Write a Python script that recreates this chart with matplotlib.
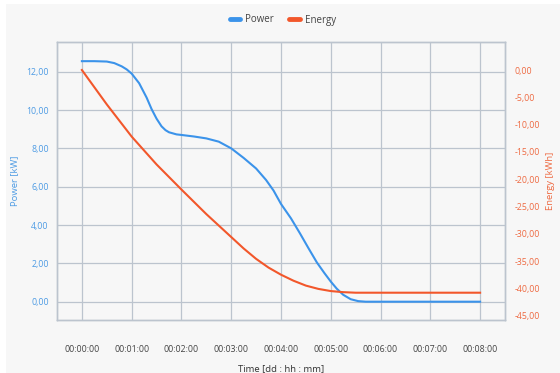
import numpy as np
import matplotlib
matplotlib.use("Agg")
import matplotlib.pyplot as plt
from matplotlib.ticker import FuncFormatter
from matplotlib.lines import Line2D
from matplotlib.patches import Rectangle

plt.rcParams['font.family'] = ['Open Sans', 'DejaVu Sans']

# time in minutes
t_power = [0, 0.25, 0.5, 0.65, 0.8, 0.9, 1.0, 1.15, 1.3, 1.4, 1.5, 1.6, 1.68, 1.75, 1.9, 2.0,
           2.25, 2.5, 2.75, 3.0, 3.25, 3.5, 3.7, 3.85, 4.0, 4.2, 4.38, 4.55, 4.72,
           4.87, 5.0, 5.12, 5.25, 5.4, 5.55, 5.7, 6.0, 7.0, 8.0]
power = [12.55, 12.55, 12.53, 12.45, 12.28, 12.12, 11.9, 11.4, 10.65, 10.05, 9.55, 9.15, 8.95, 8.84, 8.73, 8.7,
         8.62, 8.52, 8.35, 8.0, 7.5, 6.95, 6.35, 5.8, 5.1, 4.35, 3.57, 2.8, 2.05,
         1.5, 1.05, 0.68, 0.36, 0.13, 0.03, 0.0, 0.0, 0.0, 0.0]

t_energy = [0, 0.5, 1.0, 1.5, 2.0, 2.5, 3.0, 3.25, 3.5, 3.75, 4.0, 4.25, 4.5, 4.75,
            5.0, 5.25, 5.5, 6.0, 7.0, 8.0]
energy = [0, -6.3, -12.2, -17.3, -21.9, -26.4, -30.6, -32.7, -34.6, -36.2, -37.5, -38.6,
          -39.5, -40.1, -40.5, -40.7, -40.8, -40.8, -40.8, -40.8]

x_ticks = list(range(9))
x_labels = ["00:00:00", "00:01:00", "00:02:00", "00:03:00", "00:04:00",
            "00:05:00", "00:06:00", "00:07:00", "00:08:00"]
power_ticks = [0, 2, 4, 6, 8, 10, 12]
energy_ticks = [0, -5, -10, -15, -20, -25, -30, -35, -40, -45]

blue = '#3b93ea'
orange = '#f2572b'
blue_txt = '#4d9be4'
orange_txt = '#ee6a42'
grid_c = '#bcc4ce'
bg = '#f7f7f7'

fig = plt.figure(figsize=(5.6, 3.73), dpi=100, facecolor='white')
fig.patches.append(Rectangle((6 / 560, 0), 1, 1 - 4 / 373, transform=fig.transFigure,
                             facecolor=bg, edgecolor='none', zorder=-10))
ax = fig.add_axes([57 / 560, 1 - 320 / 373, 448 / 560, 278 / 373])
ax.set_facecolor(bg)
ax2 = ax.twinx()

ax.plot(t_power, power, color=blue, lw=1.5, zorder=3)
ax2.plot(t_energy, energy, color=orange, lw=1.5, zorder=3)

ax.set_xlim(-0.5, 8.5)
ax.set_ylim(-0.955, 13.55)
ax2.set_ylim(-45.8, 5.13)

comma = FuncFormatter(lambda v, p: f"{v:.2f}".replace('.', ','))
ax.set_xticks(x_ticks)
ax.set_xticklabels(x_labels)
ax.set_yticks(power_ticks)
ax.yaxis.set_major_formatter(comma)
ax2.set_yticks(energy_ticks)
ax2.yaxis.set_major_formatter(comma)

ax.grid(True, color=grid_c, lw=0.9)
ax.set_axisbelow(True)
ax.tick_params(axis='x', length=0, pad=18, labelsize=6.3, labelcolor='#444444')
ax.tick_params(axis='y', length=0, pad=6, labelsize=6.3, labelcolor=blue_txt)
ax2.tick_params(axis='y', length=0, pad=7, labelsize=6.3, labelcolor=orange_txt)

for a in (ax, ax2):
    for s in a.spines.values():
        s.set_color(grid_c)
        s.set_linewidth(1.0)

ax.set_ylabel("Power [kW]", color=blue_txt, fontsize=6.8, labelpad=5)
ax2.set_ylabel("Energy [kWh]", color=orange_txt, fontsize=6.8, labelpad=4)
ax.set_xlabel("Time [dd : hh : mm]", color='#333333', fontsize=6.8, labelpad=7)

handles = [Line2D([], [], color=blue, lw=3.5, solid_capstyle='round'),
           Line2D([], [], color=orange, lw=3.5, solid_capstyle='round')]
fig.legend(handles, ["Power", "Energy"], loc='center', bbox_to_anchor=(0.505, 1 - 20 / 373),
           ncol=2, frameon=False, fontsize=7, handlelength=1.1, handletextpad=0.5,
           columnspacing=1.6, labelcolor='#444444')

fig.savefig("out.png", dpi=100, facecolor=fig.get_facecolor())
